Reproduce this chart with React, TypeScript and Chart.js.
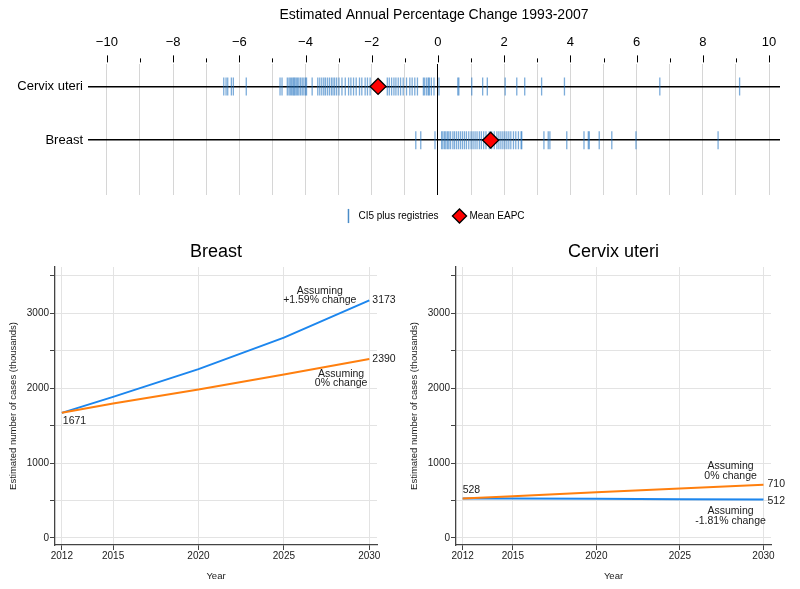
import React, { useEffect, useRef } from 'react';
import { Chart, registerables } from 'chart.js';

Chart.register(...registerables);

const FONT = '"Liberation Sans", Arial, Helvetica, sans-serif';

// ---------- Top panel data ----------
const rowLabels = ['Cervix uteri', 'Breast'];
const cervixEapc = [
  -6.47, -6.4, -6.35, -6.24, -6.18, -5.79,
  -4.77, -4.71, -4.55, -4.5, -4.46, -4.42, -4.38, -4.35, -4.32, -4.28, -4.24, -4.2, -4.15, -4.1, -4.05, -4.0, -3.97,
  -3.8, -3.63, -3.57, -3.51, -3.45, -3.4, -3.34, -3.28, -3.22, -3.17, -3.12,
  -3.06, -2.99, -2.9, -2.8, -2.7, -2.63, -2.55, -2.47, -2.37, -2.3, -2.2, -2.13, -2.05,
  -1.53, -1.47, -1.4, -1.33, -1.27, -1.2, -1.13, -1.05, -0.95, -0.85, -0.78, -0.7, -0.62,
  -0.44, -0.4, -0.34, -0.29, -0.26, -0.2, -0.12, 0.03,
  0.6, 0.63, 1.02, 1.35, 1.49, 2.03, 2.38, 2.62, 3.13, 3.82, 6.7, 9.11,
];
const breastEapc = [
  -0.67, -0.52, -0.09, 0.11, 0.15, 0.2, 0.24, 0.29, 0.33, 0.38, 0.45, 0.5, 0.56, 0.62, 0.68, 0.74,
  0.8, 0.86, 0.93, 1.0, 1.06, 1.12, 1.18, 1.25, 1.31, 1.38, 1.45, 1.55, 1.62, 1.7, 1.78, 1.84, 1.9,
  1.96, 2.02, 2.08, 2.14, 2.2, 2.28, 2.35, 2.43, 2.51, 2.53, 3.2, 3.33, 3.38, 3.89, 4.41, 4.54, 4.57,
  4.87, 5.25, 5.98, 8.46,
];
const meanEapc = [-1.81, 1.59]; // cervix, breast
const eapcTicks = [-10, -9, -8, -7, -6, -5, -4, -3, -2, -1, 0, 1, 2, 3, 4, 5, 6, 7, 8, 9, 10];

// ---------- Bottom panels data ----------
const years = [2012, 2015, 2020, 2025, 2030];
const breastTrend = [1671, 1884, 2255, 2676, 3173];
const breastConstant = [1671, 1796, 1982, 2182, 2390];
const cervixTrend = [528, 527, 522, 518, 512];
const cervixConstant = [528, 558, 610, 660, 710];
const yGridValues = [0, 500, 1000, 1500, 2000, 2500, 3000, 3500];
const yLabelValues = [0, 1000, 2000, 3000];

const BLUE = '#1c86ee';
const ORANGE = '#ff7f0e';
const GRID = '#e3e3e3';
const AXIS = '#444';
const TICKBLUE = 'rgba(30,112,192,0.58)';

const last = (a: number[]) => a[a.length - 1];
const fmtPct = (v: number) => (v > 0 ? '+' : '') + v.toFixed(2) + '% change';

const topTickPlugin = {
  id: 'topTicks',
  afterDraw(chart: any) {
    const { ctx, chartArea } = chart;
    const xs = chart.scales.x;
    ctx.save();
    ctx.strokeStyle = '#000';
    ctx.lineWidth = 1;
    eapcTicks.forEach((v) => {
      const px = Math.round(xs.getPixelForValue(v)) + 0.5;
      const len = v % 2 === 0 ? 7 : 4;
      ctx.beginPath();
      ctx.moveTo(px, chartArea.top - 2 - len);
      ctx.lineTo(px, chartArea.top - 2);
      ctx.stroke();
    });
    ctx.restore();
  },
};

function topConfig(): any {
  const tickPoints = [
    ...cervixEapc.map((v) => ({ x: v, y: 1 })),
    ...breastEapc.map((v) => ({ x: v, y: 2 })),
  ];
  return {
    type: 'scatter',
    data: {
      datasets: [
        {
          label: 'CI5 plus registries',
          data: tickPoints,
          pointStyle: 'line',
          pointRotation: 90,
          pointRadius: 9,
          pointBorderWidth: 1.3,
          pointBorderColor: TICKBLUE,
          pointBackgroundColor: TICKBLUE,
          borderColor: TICKBLUE,
          backgroundColor: TICKBLUE,
          order: 2,
        },
        {
          label: 'Mean EAPC',
          data: meanEapc.map((v, i) => ({ x: v, y: i + 1 })),
          pointStyle: 'rectRot',
          pointRadius: 8,
          pointBorderWidth: 1.3,
          pointBorderColor: '#000',
          pointBackgroundColor: '#ff0000',
          borderColor: '#000',
          backgroundColor: '#ff0000',
          order: 1,
        },
      ],
    },
    options: {
      animation: false,
      responsive: false,
      events: [],
      layout: { padding: { left: 8, right: 20, top: 0, bottom: 4 } },
      plugins: {
        tooltip: { enabled: false },
        title: {
          display: true,
          text: 'Estimated Annual Percentage Change 1993-2007',
          fullSize: false,
          color: '#000',
          font: { family: FONT, size: 14, weight: 'normal' },
          padding: { top: 6.6, bottom: 4 },
        },
        legend: {
          position: 'bottom',
          fullSize: false,
          labels: {
            usePointStyle: true,
            color: '#000',
            font: { family: FONT, size: 10 },
            padding: 16,
            sort: (a: any, b: any) => a.datasetIndex - b.datasetIndex,
            generateLabels: (chart: any) => {
              const items = Chart.defaults.plugins.legend.labels.generateLabels(chart);
              items.forEach((it: any) => {
                if (it.datasetIndex === 0) {
                  it.strokeStyle = '#4a8cc8';
                  it.lineWidth = 1.5;
                }
              });
              return items;
            },
          },
        },
      },
      scales: {
        x: {
          type: 'linear',
          position: 'top',
          min: -10.57,
          max: 10.33,
          afterBuildTicks: (s: any) => {
            s.ticks = eapcTicks.map((v) => ({ value: v }));
          },
          afterFit: (s: any) => {
            s.height = 37;
          },
          ticks: {
            autoSkip: false,
            maxRotation: 0,
            padding: 14.2,
            color: '#000',
            font: { family: FONT, size: 13 },
            callback: (v: number) => (v % 2 === 0 ? (v < 0 ? '\u2212' + Math.abs(v) : String(v)) : ''),
          },
          grid: {
            drawTicks: false,
            lineWidth: 1,
            color: (c: any) => (c.tick && c.tick.value === 0 ? '#000' : '#d6d6d6'),
          },
          border: { display: false },
        },
        y: {
          type: 'linear',
          reverse: true,
          min: 0.59,
          max: 3.02,
          afterBuildTicks: (s: any) => {
            s.ticks = [{ value: 1 }, { value: 2 }];
          },
          afterFit: (s: any) => {
            s.width = 80;
          },
          ticks: {
            padding: 5,
            color: '#000',
            font: { family: FONT, size: 13 },
            callback: (v: number) => rowLabels[v - 1],
          },
          grid: { drawTicks: false, color: '#000', lineWidth: 1.5 },
          border: { display: false },
        },
      },
    },
    plugins: [topTickPlugin],
  };
}

type Label = { lines: string[]; x: number; y: number; align: string; dx: number; dy: number };

function labelPlugin(items: Label[]) {
  return {
    id: 'curveLabels',
    afterDatasetsDraw(chart: any) {
      const { ctx } = chart;
      const xs = chart.scales.x;
      const ys = chart.scales.y;
      ctx.save();
      ctx.fillStyle = '#1a1a1a';
      ctx.textBaseline = 'middle';
      ctx.font = `10.5px ${FONT}`;
      items.forEach((it) => {
        ctx.textAlign = it.align;
        const px = xs.getPixelForValue(it.x) + it.dx;
        const py = ys.getPixelForValue(it.y) + it.dy;
        it.lines.forEach((l, k) => ctx.fillText(l, px, py + k * 9.3));
      });
      ctx.restore();
    },
  };
}

function lineConfig(title: string, trend: number[], constant: number[], trendPct: number, padRight: number, items: Label[]): any {
  const tickFont = { family: FONT, size: 10 };
  return {
    type: 'line',
    data: {
      datasets: [
        {
          label: 'Assuming 0% change',
          data: years.map((yr, i) => ({ x: yr, y: constant[i] })),
          borderColor: ORANGE,
          backgroundColor: ORANGE,
          borderWidth: 2,
          pointRadius: 0,
          tension: 0,
        },
        {
          label: 'Assuming ' + fmtPct(trendPct),
          data: years.map((yr, i) => ({ x: yr, y: trend[i] })),
          borderColor: BLUE,
          backgroundColor: BLUE,
          borderWidth: 2,
          pointRadius: 0,
          tension: 0,
        },
      ],
    },
    options: {
      animation: false,
      responsive: false,
      events: [],
      layout: { padding: { left: 0, right: padRight, top: 0, bottom: 0 } },
      plugins: {
        legend: { display: false },
        tooltip: { enabled: false },
        title: {
          display: true,
          text: title,
          fullSize: false,
          color: '#000',
          font: { family: FONT, size: 18, weight: 'normal' },
          padding: { top: 6, bottom: 4.4 },
        },
      },
      scales: {
        x: {
          type: 'linear',
          min: 2011.6,
          max: 2030.45,
          afterBuildTicks: (s: any) => {
            s.ticks = years.map((v) => ({ value: v }));
          },
          afterFit: (s: any) => {
            s.height = 44;
          },
          ticks: {
            autoSkip: false,
            maxRotation: 0,
            padding: 0,
            color: '#1a1a1a',
            font: tickFont,
            callback: (v: number) => String(v),
          },
          grid: { color: GRID, tickColor: AXIS, tickLength: 5, lineWidth: 1 },
          border: { color: AXIS, width: 1.3 },
          title: {
            display: true,
            text: 'Year',
            color: '#1a1a1a',
            font: { family: FONT, size: 9.5 },
            padding: { top: 0, bottom: 7 },
          },
        },
        y: {
          type: 'linear',
          min: -95,
          max: 3620,
          afterBuildTicks: (s: any) => {
            s.ticks = yGridValues.map((v) => ({ value: v }));
          },
          afterFit: (s: any) => {
            s.width = 55;
          },
          ticks: {
            padding: 1,
            color: '#1a1a1a',
            font: tickFont,
            callback: (v: number) => (yLabelValues.includes(v) ? String(v) : ''),
          },
          grid: { color: GRID, tickColor: AXIS, tickLength: 5, lineWidth: 1 },
          border: { color: AXIS, width: 1.3 },
          title: {
            display: true,
            text: 'Estimated number of cases (thousands)',
            color: '#1a1a1a',
            font: { family: FONT, size: 9.5 },
            padding: { top: 8, bottom: 0 },
          },
        },
      },
    },
    plugins: [labelPlugin(items)],
  };
}

const breastLabels: Label[] = [
  { lines: [String(breastTrend[0])], x: years[0], y: breastTrend[0], align: 'left', dx: 1, dy: 8 },
  { lines: [String(last(breastTrend))], x: last(years), y: last(breastTrend), align: 'left', dx: 3, dy: 0 },
  { lines: [String(last(breastConstant))], x: last(years), y: last(breastConstant), align: 'left', dx: 3, dy: 0 },
  { lines: ['Assuming', fmtPct(meanEapc[1])], x: 2027.1, y: 3296, align: 'center', dx: 0, dy: 0 },
  { lines: ['Assuming', '0% change'], x: 2028.35, y: 2191, align: 'center', dx: 0, dy: 0 },
];

const cervixLabels: Label[] = [
  { lines: [String(cervixTrend[0])], x: years[0], y: cervixTrend[0], align: 'left', dx: 0, dy: -8 },
  { lines: [String(last(cervixConstant))], x: last(years), y: last(cervixConstant), align: 'left', dx: 4, dy: -1 },
  { lines: [String(last(cervixTrend))], x: last(years), y: last(cervixTrend), align: 'left', dx: 4, dy: 2 },
  { lines: ['Assuming', '0% change'], x: 2028.03, y: 955, align: 'center', dx: 0, dy: 0 },
  { lines: ['Assuming', fmtPct(meanEapc[0])], x: 2028.03, y: 355, align: 'center', dx: 0, dy: 0 },
];

export default function App() {
  const topRef = useRef<HTMLCanvasElement>(null);
  const leftRef = useRef<HTMLCanvasElement>(null);
  const rightRef = useRef<HTMLCanvasElement>(null);

  useEffect(() => {
    const charts = [
      new Chart(topRef.current as HTMLCanvasElement, topConfig()),
      new Chart(
        leftRef.current as HTMLCanvasElement,
        lineConfig('Breast', breastTrend, breastConstant, meanEapc[1], 23, breastLabels)
      ),
      new Chart(
        rightRef.current as HTMLCanvasElement,
        lineConfig('Cervix uteri', cervixTrend, cervixConstant, meanEapc[0], 29, cervixLabels)
      ),
    ];
    return () => charts.forEach((c) => c.destroy());
  }, []);

  return (
    <div style={{ position: 'absolute', left: 0, top: 0, width: 800, height: 589, background: '#fff' }}>
      <canvas ref={topRef} width={800} height={235} style={{ position: 'absolute', left: 0, top: 0 }} />
      <canvas ref={leftRef} width={400} height={354} style={{ position: 'absolute', left: 0, top: 235 }} />
      <canvas ref={rightRef} width={399} height={354} style={{ position: 'absolute', left: 401, top: 235 }} />
    </div>
  );
}
